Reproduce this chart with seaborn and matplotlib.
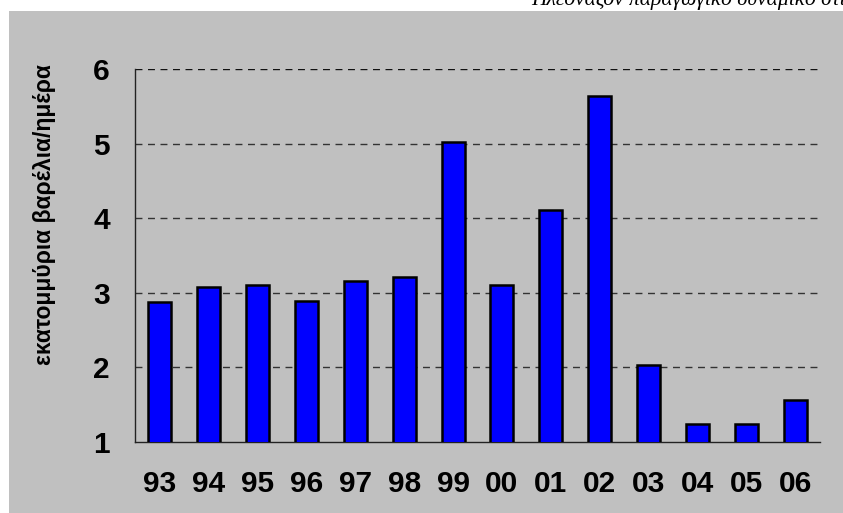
import numpy as np
import pandas as pd
import matplotlib
matplotlib.use("Agg")
import matplotlib.pyplot as plt
from matplotlib.patches import Rectangle
import seaborn as sns

# Spare OPEC production capacity, million barrels per day
years = ["93", "94", "95", "96", "97", "98", "99", "00", "01", "02", "03", "04", "05", "06"]
capacity = [2.87, 3.08, 3.11, 2.89, 3.16, 3.21, 5.02, 3.10, 4.11, 5.64, 2.03, 1.24, 1.24, 1.56]
y_ticks = [1, 2, 3, 4, 5, 6]

title_text = "Πλεονάζον παραγωγικό δυναμικό στις"
y_label = "εκατομμύρια βαρέλια/ημέρα"

sns.set_style("white")
plt.rcParams["font.family"] = ["Liberation Sans", "DejaVu Sans"]
plt.rcParams.update({"text.color": "black", "axes.labelcolor": "black",
                     "xtick.color": "black", "ytick.color": "black"})

W, H = 843, 513
fig = plt.figure(figsize=(W / 100, H / 100), dpi=100, facecolor="white")

# grey chart area behind everything
fig.patches.append(Rectangle((9 / W, 0), 1, (H - 11) / H, transform=fig.transFigure,
                             facecolor="#C0C0C0", edgecolor="none", zorder=-10))

ax = fig.add_axes([135 / W, 1 - 442 / H, (820 - 135) / W, (442 - 69) / H])
ax.set_zorder(1)
ax.set_facecolor("none")

df = pd.DataFrame({"year": years, "capacity": capacity})
sns.barplot(data=df, x="year", y="capacity", color="#0000FF", saturation=1,
            width=0.47, edgecolor="black", linewidth=1.8, ax=ax, zorder=3)
for p in ax.patches:
    p.set_facecolor("#0000FF")

ax.set_ylim(1, 6)
ax.set_xlim(-0.5, len(years) - 0.5)
ax.set_yticks(y_ticks)
ax.set_yticklabels([str(t) for t in y_ticks], fontsize=21.5, fontweight="bold")

# dashed horizontal gridlines
for t in y_ticks[1:]:
    ax.axhline(t, color="#333333" if t < 6 else "#111111", lw=1.0,
               linestyle=(0, (5, 4)), zorder=1)

# category boundaries as ticks, labels centred on bars
ax.set_xticks(np.arange(-0.5, len(years), 1))
ax.set_xticklabels([])
ax.set_xticks(np.arange(len(years)), minor=True)
ax.set_xticklabels(years, minor=True, fontsize=21.5, fontweight="bold")
ax.tick_params(axis="x", which="major", direction="out", length=7, width=1, color="#333333")
ax.tick_params(axis="x", which="minor", length=0, pad=20)
ax.tick_params(axis="y", direction="out", length=10, width=1, color="#333333", pad=8)

for s in ("top", "right"):
    ax.spines[s].set_visible(False)
for s in ("left", "bottom"):
    ax.spines[s].set_color("#222222")
    ax.spines[s].set_linewidth(1.0)

ax.set_xlabel("")
ax.set_ylabel("")

fig.text(45 / W, 1 - 215 / H, y_label, rotation=90, ha="center", va="center",
         fontsize=16.5, fontweight="bold")

fig.text(531 / W, 1 - 5 / H, title_text, ha="left", va="baseline",
         fontsize=15.5, style="italic", family=["Liberation Serif", "DejaVu Serif"])

fig.savefig("out.png", dpi=100, facecolor="white")
